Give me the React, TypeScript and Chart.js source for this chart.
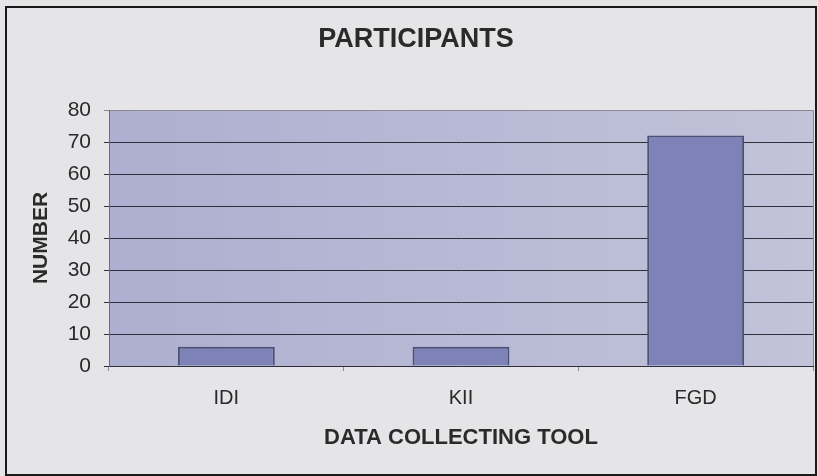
import React, { useEffect, useRef } from "react";
import { Chart, registerables } from "chart.js";

Chart.register(...registerables);

const categories: string[] = ["IDI", "KII", "FGD"];
const participants: number[] = [6, 6, 72];
const yTicks: number[] = [0, 10, 20, 30, 40, 50, 60, 70, 80];
const chartTitle = "PARTICIPANTS";
const xTitle = "DATA COLLECTING TOOL";
const yTitle = "NUMBER";

const FONT = "Arial, 'Liberation Sans', Helvetica, sans-serif";

const backgroundPlugin = {
  id: "bgPlugin",
  beforeDraw(chart: any) {
    const { ctx, chartArea, width, height } = chart;
    ctx.save();
    ctx.fillStyle = "#e5e5e8";
    ctx.fillRect(0, 0, width, height);
    const g = ctx.createLinearGradient(chartArea.left, 0, chartArea.right, 0);
    g.addColorStop(0, "#adafd0");
    g.addColorStop(1, "#c2c3d9");
    ctx.fillStyle = g;
    ctx.fillRect(chartArea.left, chartArea.top, chartArea.right - chartArea.left, chartArea.bottom - chartArea.top);
    ctx.strokeStyle = "#8a8a96";
    ctx.lineWidth = 1;
    ctx.beginPath();
    ctx.moveTo(chartArea.left, chartArea.top + 0.5);
    ctx.lineTo(chartArea.right + 0.5, chartArea.top + 0.5);
    ctx.lineTo(chartArea.right + 0.5, chartArea.bottom);
    ctx.stroke();
    ctx.restore();
  },
  afterDraw(chart: any) {
    const { ctx } = chart;
    ctx.save();
    ctx.fillStyle = "#2a2a2a";
    ctx.font = `bold 27px ${FONT}`;
    ctx.textAlign = "center";
    ctx.textBaseline = "middle";
    ctx.fillText(chartTitle, 416, 40);
    ctx.strokeStyle = "#1a1a1a";
    ctx.lineWidth = 2;
    ctx.strokeRect(6, 7, 810, 468);
    ctx.restore();
  },
};

export default function App() {
  const canvasRef = useRef<HTMLCanvasElement | null>(null);

  useEffect(() => {
    if (!canvasRef.current) return;
    const chart = new Chart(canvasRef.current, {
      type: "bar",
      data: {
        labels: categories,
        datasets: [
          {
            label: "Participants",
            data: participants,
            backgroundColor: "#7d83b7",
            borderColor: "#4c4f76",
            borderWidth: 2,
            categoryPercentage: 1,
            barPercentage: 0.413,
          },
        ],
      },
      options: {
        animation: false,
        responsive: false,
        devicePixelRatio: 1,
        layout: { padding: { left: 0, right: 5, top: 110, bottom: 0 } },
        plugins: {
          legend: { display: false },
          tooltip: { enabled: false },
          title: { display: false },
        },
        scales: {
          x: {
            afterFit: (scale: any) => {
              scale.height = 110;
            },
            grid: {
              display: true,
              offset: true,
              drawOnChartArea: false,
              drawTicks: true,
              tickLength: 5,
              color: "#8a8a96",
            },
            border: { display: true, color: "#2e2e3a", width: 1 },
            ticks: {
              color: "#2a2a2a",
              padding: 15,
              font: { family: FONT, size: 20, lineHeight: 1.2 },
            },
            title: {
              display: true,
              text: xTitle,
              color: "#2a2a2a",
              font: { family: FONT, size: 22, weight: "bold", lineHeight: 1.2 },
              padding: { top: 0, bottom: 25 },
            },
          },
          y: {
            min: 0,
            max: 80,
            afterFit: (scale: any) => {
              scale.width = 109;
            },
            afterBuildTicks: (scale: any) => {
              scale.ticks = yTicks.map((v) => ({ value: v }));
            },
            grid: {
              display: true,
              drawTicks: true,
              tickLength: 5,
              color: (c: any) => (c.tick && c.tick.value === 80 ? "#8a8a96" : "#2e2e3a"),
              lineWidth: 1,
            },
            border: { display: true, color: "#6a6a78", width: 1 },
            ticks: {
              color: "#2a2a2a",
              padding: 13,
              font: { family: FONT, size: 21, lineHeight: 1.2 },
            },
            title: {
              display: true,
              text: yTitle,
              color: "#2a2a2a",
              font: { family: FONT, size: 21, weight: "bold", lineHeight: 1.2 },
              padding: { top: 29, bottom: 0 },
            },
          },
        },
      },
      plugins: [backgroundPlugin],
    } as any);
    return () => chart.destroy();
  }, []);

  return (
    <div style={{ position: "absolute", left: 0, top: 0, width: 818, height: 476 }}>
      <canvas ref={canvasRef} width={818} height={476} style={{ display: "block" }} />
    </div>
  );
}
